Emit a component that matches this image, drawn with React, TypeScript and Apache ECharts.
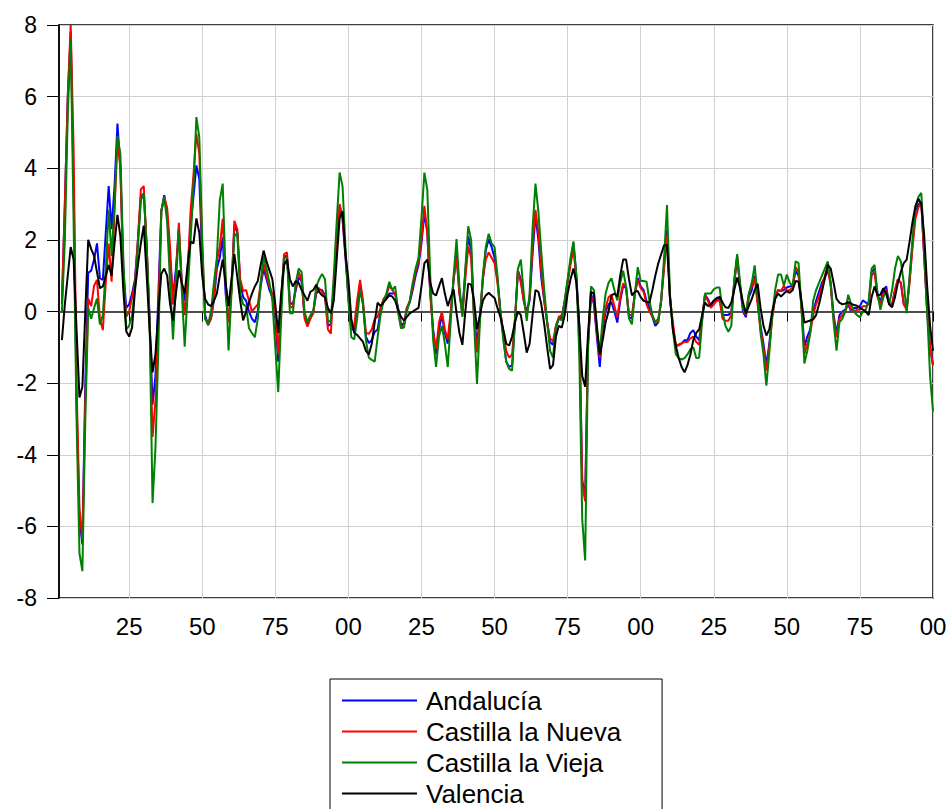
import React, { useEffect, useRef } from "react";
import * as echarts from "echarts";

const years: string[] = Array.from({ length: 300 }, (_, i) => String(1701 + i));
const yTicks = { min: -8, max: 8, step: 2 };
const seriesNames = ["Andalucía", "Castilla la Nueva", "Castilla la Vieja", "Valencia"];
const seriesColors = ["#0000ff", "#ff0000", "#008000", "#000000"];

const andalucia: (number | null)[] = [
  null, 0.2, 3.0, 6.0, 7.8, 3.5, -2.5, -5.8, -6.5, -2.0, 1.08, 1.14, 1.45, 1.9, 0.93, 0.88, 2.2, 3.5, 2.3, 3.5, 5.25, 4.0, 1.2, 0.1, 0.2,
  0.5, 0.9, 2.0, 3.2, 3.3, 1.8, -0.2, -2.6, -1.8, 0.5, 2.8, 3.25, 2.7, 1.5, 0.4, 1.2, 2.3, 0.8, 0.3, 1.2, 2.4, 3.2, 4.08, 3.7, 1.5,
  -0.1, -0.38, -0.2, 0.3, 1.2, 1.5, 2.07, 0.5, -0.3, 0.6, 2.43, 2.2, 0.8, 0.4, 0.3, 0.0, -0.2, -0.3, 0.0, 0.7, 1.2, 0.9, 0.6, 0.4, -0.2,
  -1.4, 0.2, 1.55, 1.55, 0.25, 0.2, 0.6, 0.95, 0.85, -0.1, -0.35, -0.15, 0.0, 0.5, 0.6, 0.6, 0.45, -0.4, -0.35, 0.7, 2.0, 2.95, 2.6, 1.5, 0.4,
  -0.5, -0.5, 0.1, 0.75, 0.2, -0.7, -0.88, -0.8, -0.57, -0.5, 0.0, 0.3, 0.4, 0.5, 0.5, 0.5, 0.1, -0.35, -0.35, 0.1, 0.25, 0.6, 1.0, 1.3, 1.9,
  2.74, 2.2, 0.5, -0.5, -1.2, -0.5, -0.1, -0.6, -0.9, -0.1, 0.9, 1.6, 0.5, 0.0, 1.1, 2.1, 1.7, -0.1, -0.93, -0.1, 0.9, 1.7, 2.02, 1.8, 1.5,
  0.9, 0.0, -0.7, -1.4, -1.55, -1.5, -0.3, 1.14, 0.9, 0.3, 0.0, 0.3, 1.6, 2.69, 2.0, 0.93, 0.3, -0.3, -0.85, -0.93, -0.45, -0.2, -0.15, 0.3, 0.85,
  1.4, 1.91, 1.0, -0.4, -4.7, -5.2, -0.9, 0.5, 0.2, -0.7, -1.55, -0.5, 0.0, 0.2, 0.26, 0.0, -0.31, 0.3, 0.72, 0.65, -0.15, -0.2, 0.5, 0.93, 0.7,
  0.6, 0.3, 0.1, -0.15, -0.4, -0.3, 0.3, 1.3, 2.27, 0.4, -0.4, -0.98, -0.92, -0.9, -0.8, -0.8, -0.6, -0.52, -0.7, -0.8, -0.2, 0.47, 0.35, 0.15, 0.3,
  0.35, 0.36, -0.1, -0.1, -0.1, 0.0, 0.8, 1.5, 0.7, 0.0, -0.16, 0.4, 0.6, 1.0, 0.3, -0.4, -0.9, -1.5, -0.9, -0.1, 0.4, 0.6, 0.57, 0.6, 0.67,
  0.7, 0.72, 1.14, 1.0, 0.2, -0.98, -0.7, -0.5, 0.0, 0.3, 0.55, 0.8, 0.95, 1.14, 0.8, -0.1, -0.62, -0.1, 0.0, 0.05, 0.2, 0.0, 0.1, 0.1, 0.15,
  0.31, 0.25, 0.2, 1.1, 1.2, 0.5, 0.25, 0.6, 0.7, 0.2, 0.2, 0.6, 0.9, 0.8, 0.2, 0.1, 0.9, 1.9, 2.8, 3.0, 3.05, 1.5, 0.0, -1.0, -1.5,
];

const castillaNueva: (number | null)[] = [
  null, 0.3, 3.0, 6.0, 8.0, 4.5, -2.0, -5.5, -6.4, -2.5, 0.36, 0.15, 0.72, 0.88, -0.2, -0.52, 0.8, 1.9, 0.83, 2.8, 4.8, 4.0, 1.0, -0.15, 0.0,
  0.4, 0.8, 2.0, 3.41, 3.5, 1.8, -0.3, -3.5, -2.5, 0.0, 2.8, 3.2, 2.9, 1.8, 0.2, 1.0, 2.48, 0.8, -0.1, 1.0, 2.8, 3.8, 4.96, 4.4, 1.8,
  -0.2, -0.36, -0.2, 0.4, 1.4, 1.8, 2.59, 0.8, -0.3, 0.6, 2.53, 2.3, 0.9, 0.57, 0.6, 0.3, 0.0, 0.1, 0.2, 0.8, 1.34, 1.0, 0.7, 0.5, 0.0,
  -1.2, 0.3, 1.6, 1.65, 0.15, 0.1, 0.7, 1.1, 0.9, -0.2, -0.42, -0.2, -0.05, 0.6, 0.65, 0.55, 0.4, -0.5, -0.62, 0.8, 2.0, 3.0, 2.6, 1.6, 0.5,
  -0.5, -0.4, 0.3, 0.88, 0.3, -0.6, -0.62, -0.5, -0.2, -0.15, 0.1, 0.35, 0.45, 0.72, 0.6, 0.5, 0.0, -0.41, -0.4, 0.1, 0.3, 0.7, 1.1, 1.4, 2.0,
  2.95, 2.2, 0.5, -0.6, -1.05, -0.3, 0.0, -0.5, -0.78, 0.0, 0.9, 1.5, 0.5, -0.1, 0.9, 1.81, 1.5, -0.2, -1.14, -0.2, 0.9, 1.45, 1.65, 1.5, 1.35,
  0.8, 0.0, -0.6, -1.1, -1.29, -1.2, -0.2, 1.14, 0.8, 0.3, -0.1, 0.4, 1.8, 2.84, 2.2, 1.14, 0.3, -0.3, -0.75, -0.83, -0.4, -0.15, -0.1, 0.2, 0.8,
  1.3, 1.76, 0.9, -0.5, -4.8, -5.3, -0.8, 0.4, 0.3, -0.6, -1.29, -0.4, 0.1, 0.4, 0.47, 0.15, -0.16, 0.4, 0.78, 0.7, -0.1, -0.1, 0.5, 0.88, 0.65,
  0.55, 0.2, 0.0, -0.15, -0.3, -0.2, 0.3, 1.2, 2.12, 0.4, -0.3, -0.93, -0.95, -0.88, -0.85, -0.85, -0.75, -0.7, -0.85, -0.93, -0.2, 0.45, 0.3, 0.1, 0.2,
  0.3, 0.31, -0.2, -0.26, -0.26, -0.1, 0.8, 1.55, 0.7, 0.1, -0.1, 0.5, 0.7, 0.93, 0.2, -0.5, -1.0, -1.65, -1.0, -0.2, 0.4, 0.6, 0.57, 0.72, 0.57,
  0.6, 0.67, 1.24, 1.1, 0.1, -1.19, -0.9, -0.6, -0.1, 0.2, 0.4, 0.7, 1.0, 1.24, 0.7, -0.2, -0.72, -0.2, -0.1, 0.0, 0.26, 0.05, 0.0, 0.05, 0.05,
  0.15, 0.15, 0.2, 1.0, 1.1, 0.4, 0.2, 0.5, 0.6, 0.2, 0.2, 0.6, 0.9, 0.8, 0.2, 0.05, 0.8, 1.8, 2.6, 2.9, 3.05, 1.5, 0.0, -1.0, -1.5,
];

const castillaVieja: (number | null)[] = [
  null, 0.0, 2.0, 5.5, 7.6, 2.5, -3.0, -6.75, -7.25, -3.0, 0.1, -0.2, 0.1, 0.36, -0.36, -0.1, 1.2, 2.84, 1.55, 3.0, 4.9, 4.4, 1.5, -0.5, -0.4,
  -0.1, 0.7, 1.8, 3.1, 3.3, 1.8, -0.3, -5.35, -3.8, -1.0, 2.8, 3.2, 2.5, 0.8, -0.78, 0.8, 2.27, 0.6, -0.98, 0.5, 1.96, 3.5, 5.43, 4.86, 2.0,
  -0.2, -0.36, 0.0, 0.8, 1.5, 3.1, 3.57, 1.0, -1.09, 0.5, 2.1, 2.2, 0.5, 0.2, 0.15, -0.47, -0.6, -0.72, -0.2, 0.8, 1.55, 1.2, 0.8, 0.3, -1.0,
  -2.25, -0.2, 1.5, 1.5, -0.05, -0.05, 0.8, 1.2, 1.1, 0.0, -0.3, -0.1, 0.0, 0.7, 0.9, 1.05, 0.9, -0.25, -0.3, 1.0, 2.5, 3.88, 3.5, 1.8, 0.3,
  -0.72, -0.78, -0.2, 0.62, 0.2, -0.8, -1.29, -1.35, -1.4, -0.72, -0.1, 0.3, 0.5, 0.83, 0.6, 0.7, 0.0, -0.47, -0.45, 0.0, 0.3, 0.8, 1.2, 1.5, 2.6,
  3.88, 3.4, 1.0, -0.8, -1.55, -0.7, -0.4, -0.9, -1.55, -0.3, 1.0, 2.02, 0.7, -0.15, 1.2, 2.38, 2.0, -0.3, -2.02, -0.3, 1.0, 1.8, 2.17, 1.9, 1.8,
  1.0, 0.0, -0.8, -1.4, -1.6, -1.65, -0.2, 1.19, 1.45, 0.5, -0.26, 0.5, 2.3, 3.57, 2.79, 1.65, 0.6, -0.3, -1.1, -1.29, -0.4, -0.2, -0.25, 0.3, 0.9,
  1.5, 1.96, 1.0, -1.2, -5.8, -6.95, -1.0, 0.7, 0.6, -0.5, -1.19, -0.2, 0.5, 0.8, 0.93, 0.6, 0.31, 0.8, 1.14, 0.7, -0.2, -0.36, 0.5, 1.24, 0.85,
  0.85, 0.83, 0.3, -0.1, -0.3, -0.3, 0.3, 1.5, 2.97, 0.5, -0.5, -1.19, -1.3, -1.34, -1.3, -1.2, -1.05, -1.0, -1.3, -1.29, -0.3, 0.5, 0.5, 0.5, 0.62,
  0.67, 0.67, 0.0, -0.4, -0.57, -0.4, 0.9, 1.6, 0.8, 0.1, -0.05, 0.5, 0.8, 1.29, 0.4, -0.6, -1.2, -2.07, -1.15, -0.1, 0.6, 1.03, 1.03, 0.72, 1.03,
  0.8, 0.72, 1.4, 1.35, 0.1, -1.45, -1.1, -0.6, 0.3, 0.6, 0.8, 1.0, 1.2, 1.4, 0.8, -0.3, -1.09, -0.3, -0.2, 0.0, 0.47, 0.2, 0.0, -0.1, -0.16,
  0.0, 0.05, 0.3, 1.2, 1.3, 0.5, 0.05, 0.4, 0.55, 0.2, 0.6, 1.2, 1.55, 1.4, 0.8, -0.05, 1.0, 2.0, 2.9, 3.2, 3.31, 1.8, 0.0, -1.8, -2.8,
];

const valencia: (number | null)[] = [
  null, -0.8, 0.2, 1.0, 1.8, 1.45, -0.5, -2.4, -2.1, 0.0, 2.0, 1.75, 1.55, 1.1, 0.65, 0.7, 1.0, 1.3, 1.0, 1.9, 2.7, 2.1, 0.6, -0.55, -0.7,
  -0.45, 0.6, 1.3, 1.9, 2.4, 1.0, -0.5, -1.7, -1.2, 0.0, 1.05, 1.2, 1.0, 0.2, -0.25, 0.5, 1.15, 0.8, 0.5, 1.3, 1.95, 1.9, 2.6, 2.2, 1.0,
  0.35, 0.2, 0.15, 0.3, 0.5, 1.0, 1.45, 0.8, 0.15, 0.9, 1.6, 0.95, 0.3, -0.25, 0.0, 0.25, 0.5, 0.7, 0.85, 1.3, 1.7, 1.4, 1.15, 0.9, 0.2,
  -0.6, 0.5, 1.3, 1.45, 0.9, 0.7, 0.85, 0.8, 0.6, 0.45, 0.3, 0.55, 0.6, 0.75, 0.55, 0.45, 0.4, 0.1, -0.05, 0.3, 1.45, 2.6, 2.8, 1.6, 0.9,
  -0.2, -0.6, -0.65, -0.75, -0.85, -1.1, -1.2, -0.9, -0.3, 0.25, 0.15, 0.25, 0.35, 0.45, 0.42, 0.3, 0.05, -0.15, -0.25, -0.15, -0.05, 0.0, 0.05, 0.1, 0.7,
  1.35, 1.45, 0.8, 0.5, 0.45, 0.7, 0.93, 0.5, 0.15, 0.4, 0.62, -0.05, -0.6, -0.93, 0.0, 0.78, 0.75, 0.3, -0.5, -0.1, 0.3, 0.45, 0.52, 0.45, 0.38,
  0.1, -0.15, -0.5, -0.9, -0.95, -0.7, -0.3, 0.0, -0.1, -0.6, -1.15, -0.9, -0.1, 0.6, 0.55, 0.2, -0.35, -1.0, -1.6, -1.5, -0.7, -0.4, -0.45, -0.1, 0.5,
  0.9, 1.2, 0.8, -0.4, -1.8, -2.1, -0.6, 0.55, 0.5, -0.4, -1.2, -0.8, -0.3, 0.0, 0.45, 0.5, 0.42, 1.0, 1.45, 1.45, 0.9, 0.45, 0.55, 0.57, 0.4,
  0.3, 0.27, 0.25, 0.6, 1.0, 1.34, 1.6, 1.85, 1.86, 0.4, -0.5, -0.95, -1.3, -1.55, -1.7, -1.5, -1.2, -0.8, -0.6, -0.5, -0.1, 0.25, 0.15, 0.2, 0.3,
  0.38, 0.41, 0.25, 0.12, 0.1, 0.25, 0.6, 0.95, 0.65, 0.25, -0.05, 0.15, 0.35, 0.6, 0.78, 0.1, -0.4, -0.67, -0.5, 0.0, 0.35, 0.5, 0.42, 0.5, 0.57,
  0.52, 0.6, 0.85, 0.83, 0.3, -0.31, -0.28, -0.25, -0.22, -0.1, 0.2, 0.55, 0.93, 1.3, 1.2, 0.8, 0.35, 0.25, 0.2, 0.22, 0.26, 0.22, 0.18, 0.16, 0.1,
  0.05, 0.0, -0.1, 0.4, 0.7, 0.45, 0.47, 0.65, 0.5, 0.2, 0.12, 0.4, 0.8, 1.1, 1.35, 1.45, 1.96, 2.5, 2.95, 3.15, 3.0, 2.1, 0.7, -0.4, -1.1,
];

const FONT = "'Liberation Sans', Arial, sans-serif";

export default function App() {
  const ref = useRef<HTMLDivElement>(null);
  useEffect(() => {
    if (!ref.current) return;
    const chart = echarts.init(ref.current, undefined, { renderer: "svg" });
    const tickYear = (_i: number, v: string) => Number(v) % 25 === 0;
    const dataSets = [andalucia, castillaNueva, castillaVieja, valencia];
    chart.setOption({
      animation: false,
      backgroundColor: "#ffffff",
      grid: {
        left: 59,
        right: 18,
        top: 25,
        bottom: 211,
        show: true,
        borderColor: "#000",
        borderWidth: 1.5,
        backgroundColor: "transparent",
      },
      legend: {
        orient: "vertical",
        left: 330,
        top: 679,
        height: 200,
        icon: "rect",
        itemWidth: 75,
        itemHeight: 2,
        itemGap: 0,
        padding: [6, 41, 2, 12],
        borderColor: "#000",
        borderWidth: 1,
        backgroundColor: "#fff",
        textStyle: { fontFamily: FONT, fontSize: 26, color: "#000", lineHeight: 31, padding: [0, 0, 0, 4] },
        data: seriesNames,
      },
      xAxis: {
        type: "category",
        data: years,
        boundaryGap: false,
        axisLine: { show: true, lineStyle: { color: "#000", width: 1.5 } },
        axisTick: { show: true, interval: tickYear, length: 10, lineStyle: { color: "#000", width: 1 } },
        axisLabel: {
          interval: tickYear,
          formatter: (v: string) => v.slice(2),
          fontFamily: FONT,
          fontSize: 24,
          color: "#000",
          margin: 16,
        },
        splitLine: { show: true, interval: tickYear, lineStyle: { color: "#d0d0d0", width: 1 } },
      },
      yAxis: {
        type: "value",
        min: yTicks.min,
        max: yTicks.max,
        interval: yTicks.step,
        axisLine: { show: true, lineStyle: { color: "#000", width: 1.5 } },
        axisTick: { show: true, length: 12, lineStyle: { color: "#000", width: 1 } },
        axisLabel: { fontFamily: FONT, fontSize: 23, color: "#000", margin: 22 },
        splitLine: { show: true, lineStyle: { color: "#d0d0d0", width: 1 } },
      },
      series: dataSets.map((d, i) => ({
        name: seriesNames[i],
        type: "line",
        data: d,
        symbol: "none",
        showSymbol: false,
        connectNulls: false,
        lineStyle: { color: seriesColors[i], width: 2 },
        itemStyle: { color: seriesColors[i] },
        z: 3 + i,
        markLine:
          i === 0
            ? {
                silent: true,
                symbol: "none",
                label: { show: false },
                lineStyle: { color: "#555", width: 1.5, type: "solid" },
                data: [{ yAxis: 0 }],
              }
            : undefined,
      })),
    });
    return () => chart.dispose();
  }, []);
  return (
    <div
      ref={ref}
      style={{ position: "fixed", left: 0, top: 0, width: 951, height: 809 }}
    />
  );
}
